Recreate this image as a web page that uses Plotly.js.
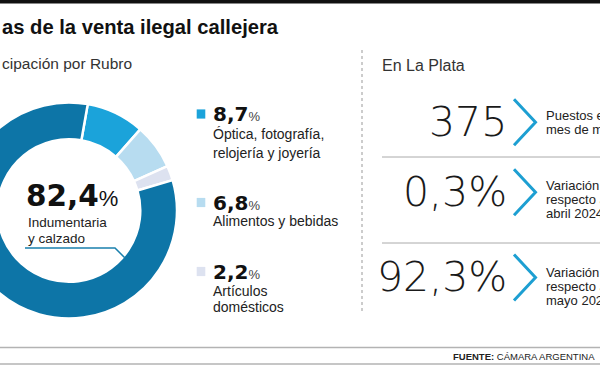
<!DOCTYPE html>
<html><head><meta charset="utf-8">
<script src="https://cdn.plot.ly/plotly-3.0.1.min.js"></script>
<style>
html,body{margin:0;padding:0;overflow:hidden;background:#fff;width:600px;height:365px}
#wrap{position:absolute;left:-40px;top:0;width:640px;height:365px}
</style>
</head><body><div id="wrap"></div>
<script>
// ---- data ----
const titulo = 'as de la venta ilegal callejera';
const subtitulo = 'cipación por Rubro';
const rubros = ['Óptica, fotografía,\nrelojería y joyería', 'Alimentos y bebidas', 'Artículos\ndomésticos', 'Indumentaria\ny calzado'];
const participacion = [8.7, 6.8, 2.2, 82.4];
const colores = ['#1ba3da', '#b7dcf0', '#dde2f0', '#0d75a7'];
const seccionDerecha = 'En La Plata';
const kpiValores = [375, 0.3, 92.3];
const kpiUnidades = ['', '%', '%'];
const kpiDescripciones = ['Puestos en el\nmes de mayo', 'Variación\nrespecto a\nabril 2024', 'Variación\nrespecto a\nmayo 2023'];
const fuenteEtiqueta = 'FUENTE:';
const fuenteTexto = 'CÁMARA ARGENTINA';

// ---- geometry helpers (screen px -> paper) ----
const W = 640, H = 365, SHIFT = 40;
const px = x => (x + SHIFT) / W;
const py = y => 1 - y / H;
const fmt = (v, d) => v.toFixed(d).replace('.', ',');
const dec = v => Number.isInteger(v) ? 0 : 1;

const cx = 69, cy = 210.5, R = 108;

const pie = {
  type: 'pie',
  values: participacion,
  labels: rubros.map(r => r.replace('\n', ' ')),
  marker: {colors: colores, line: {color: '#ffffff', width: 2.5}},
  hole: 0.66,
  sort: false,
  direction: 'clockwise',
  rotation: 10,
  textinfo: 'none',
  hoverinfo: 'skip',
  showlegend: false,
  domain: {x: [px(cx - R), px(cx + R)], y: [py(cy + R), py(cy - R)]}
};

const TXT = '#222';
const SANS = 'Liberation Sans, Arial, sans-serif';
const ann = [];
const shapes = [];
function A(x, y, text, size, o) {
  o = o || {};
  ann.push({xref: 'paper', yref: 'paper', x: px(x), y: py(y), text: text, showarrow: false,
    xanchor: o.xa || 'left', yanchor: 'middle', align: o.xa || 'left',
    font: {family: o.family || SANS, size: size, color: o.color || TXT, weight: o.weight || 400}});
}

// top bar
shapes.push({type: 'rect', xref: 'paper', yref: 'paper', x0: px(-40), x1: px(600), y0: py(3.5), y1: py(0), fillcolor: '#111', line: {width: 0}});
// title + subtitles
A(0, 27.5, '<b>' + titulo + '</b>', 20.2, {color: '#111'});
A(0, 63, subtitulo, 15.5, {color: '#333'});
A(380, 65, seccionDerecha, 16, {color: '#333'});

// centre label (largest rubro)
const iMax = participacion.indexOf(Math.max(...participacion));
A(24, 196.5, '<b>' + fmt(participacion[iMax], 1) + '</b><span style="font-family:Liberation Sans;font-weight:400;font-size:22px">%</span>', 29.5, {family: 'DejaVu Sans', color: '#111'});
const centroLineas = rubros[iMax].split('\n');
[222, 238].forEach((y, k) => A(26, y, centroLineas[k], 13.5));
shapes.push({type: 'path', xref: 'paper', yref: 'paper',
  path: `M ${px(25)},${py(248)} L ${px(115)},${py(248)} L ${px(125)},${py(258)}`,
  line: {color: '#1a80ad', width: 1.5}});

// legend for the other rubros
const legY = [114, 202.5, 271.5];
const legLineY = [[134, 152.5], [221], [290.5, 306.5]];
[0, 1, 2].forEach((i, k) => {
  const y = legY[k];
  shapes.push({type: 'rect', xref: 'paper', yref: 'paper', x0: px(196.7), x1: px(205.3), y0: py(y + 4.6), y1: py(y - 4.6), fillcolor: colores[i], line: {width: 0}});
  A(210.5, y, '<b>' + fmt(participacion[i], 1) + '</b><span style="font-family:Liberation Sans;font-weight:400;font-size:13px;fill:#444">%</span>', 20, {family: 'DejaVu Sans', color: '#111'});
  rubros[i].split('\n').forEach((line, j) => A(211, legLineY[k][j], line, 14));
});

// dotted divider
shapes.push({type: 'line', xref: 'paper', yref: 'paper', x0: px(362), x1: px(362), y0: py(50), y1: py(313), line: {color: '#999', width: 1, dash: 'dot'}});

// KPIs
const kpiY = [121.7, 191.7, 277];
const kpiLineY = [[115.5, 129.5], [185.5, 199.5, 213.5], [272.5, 286.5, 300.5]];
kpiValores.forEach((v, k) => {
  const y = kpiY[k];
  A(509, y, fmt(v, dec(v)) + kpiUnidades[k], 41, {xa: 'right', family: 'DejaVu Sans', weight: 200, color: '#1a1a1a'});
  shapes.push({type: 'path', xref: 'paper', yref: 'paper',
    path: `M ${px(514)},${py(y - 22.5)} L ${px(535.5)},${py(y + 0.5)} L ${px(514)},${py(y + 23.5)}`,
    line: {color: '#1d9fd2', width: 3}});
  kpiDescripciones[k].split('\n').forEach((line, j) => A(544, kpiLineY[k][j], line, 13));
});
// separators
[157, 243].forEach(y => shapes.push({type: 'line', xref: 'paper', yref: 'paper', x0: px(382), x1: px(600), y0: py(y), y1: py(y), line: {color: '#aaa', width: 1}}));

// footer
[347.5, 364].forEach(y => shapes.push({type: 'line', xref: 'paper', yref: 'paper', x0: px(-40), x1: px(600), y0: py(y), y1: py(y), line: {color: '#b3b3b3', width: 1.5}}));
A(597, 356, '<b>' + fuenteEtiqueta + '</b> ' + fuenteTexto, 9.5, {xa: 'right', color: '#222'});

Plotly.newPlot('wrap', [pie], {
  width: W, height: H,
  margin: {l: 0, r: 0, t: 0, b: 0, pad: 0},
  paper_bgcolor: '#ffffff', plot_bgcolor: '#ffffff',
  showlegend: false,
  annotations: ann,
  shapes: shapes
}, {displayModeBar: false, staticPlot: true});
</script>
</body></html>
